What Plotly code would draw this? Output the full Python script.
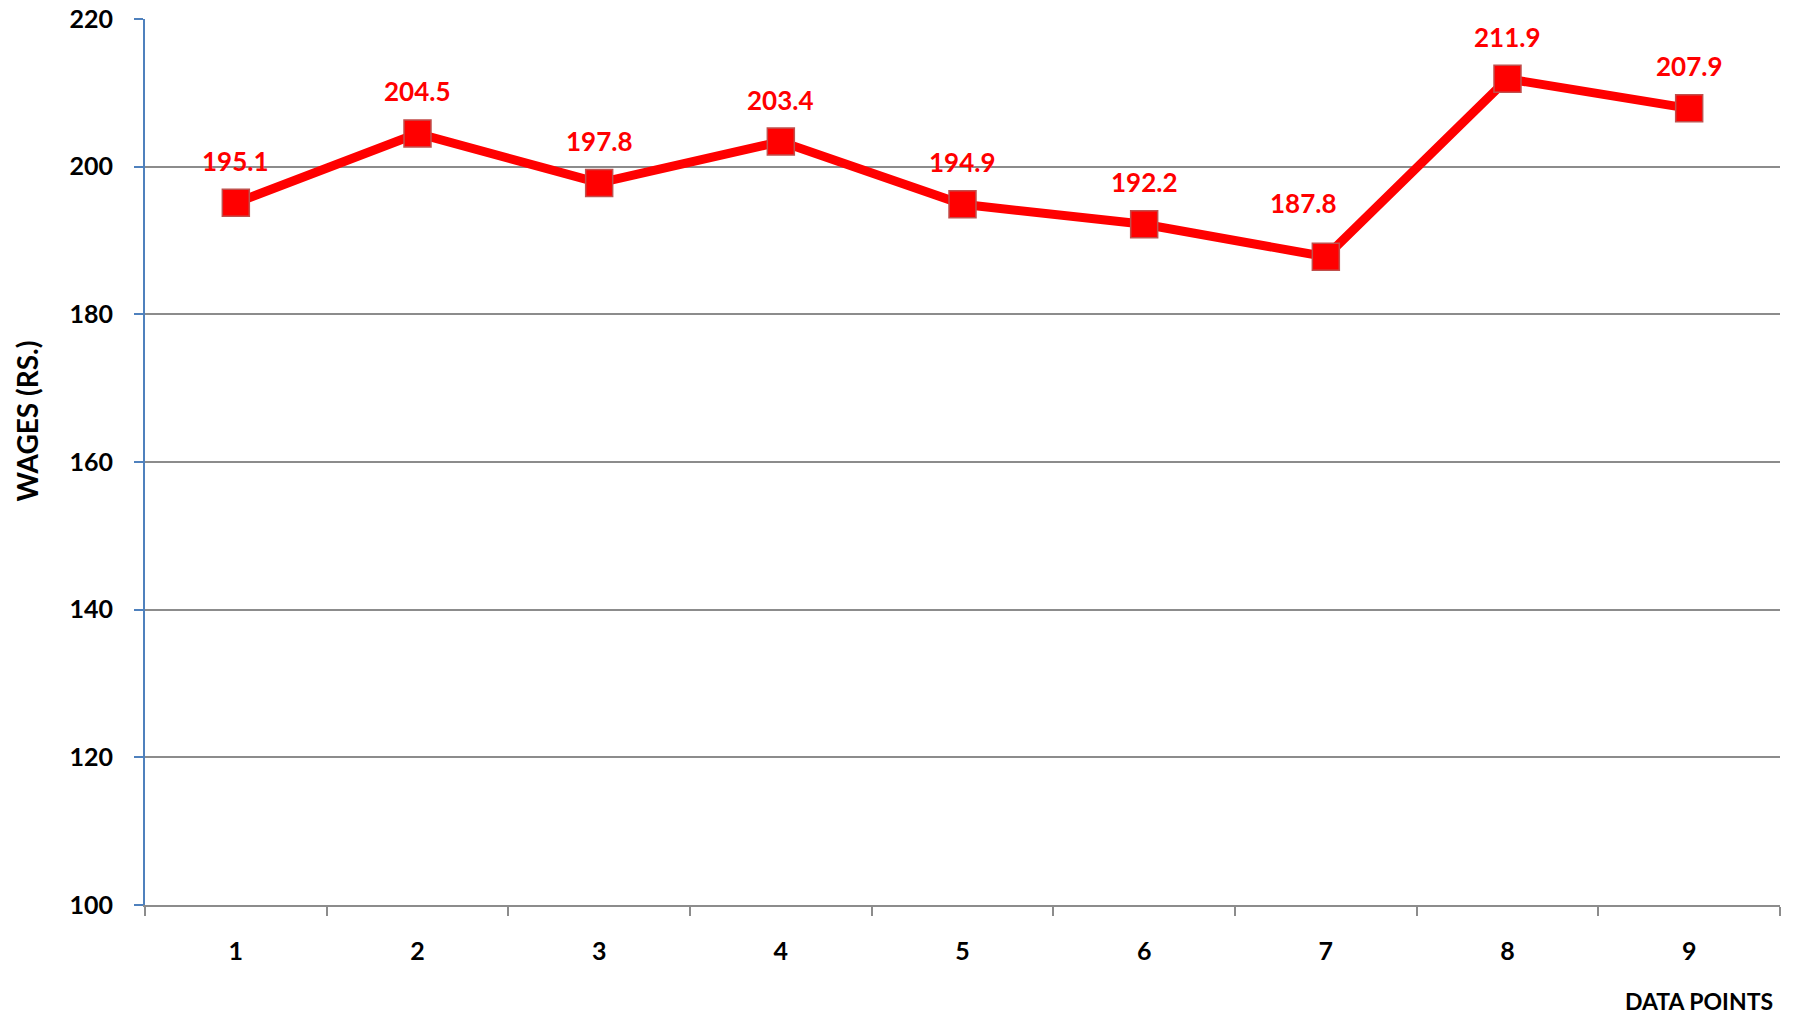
import plotly.graph_objects as go

# Wage values per data point
data_points = ["1", "2", "3", "4", "5", "6", "7", "8", "9"]
wages = [195.1, 204.5, 197.8, 203.4, 194.9, 192.2, 187.8, 211.9, 207.9]
y_ticks = [100, 120, 140, 160, 180, 200, 220]

FONT = "Lato"
RED = "#FF0000"

fig = go.Figure()
fig.add_trace(go.Scatter(
    x=data_points,
    y=wages,
    mode="lines+markers",
    line=dict(color=RED, width=9),
    marker=dict(symbol="square", size=27, color=RED,
                line=dict(color="#C0504D", width=1.5)),
    cliponaxis=False,
    showlegend=False,
))

# Value labels above each marker (category axes take the index position).
# The label at the low point is nudged left so it clears the rising line.
label_nudge = {6: (-22, 54)}
for i, w in enumerate(wages):
    dx, dy = label_nudge.get(i, (0, 42))
    fig.add_annotation(
        x=i, y=w, text=f"{w:.1f}", showarrow=False,
        xshift=dx, yshift=dy,
        font=dict(family=FONT, size=26, color=RED, weight="bold"),
    )

# Axis titles
fig.add_annotation(
    xref="paper", yref="paper", x=-0.072, y=0.546,
    text="WAGES (RS.)", textangle=-90, showarrow=False,
    xanchor="center", yanchor="middle",
    font=dict(family=FONT, size=28, color="black", weight="bold"),
)
fig.add_annotation(
    xref="paper", yref="paper", x=0.997, y=-0.108,
    text="DATA POINTS", showarrow=False,
    xanchor="right", yanchor="middle",
    font=dict(family=FONT, size=23, color="black", weight="bold"),
)

fig.update_layout(
    width=1797, height=1017,
    margin=dict(l=145, r=17, t=19, b=112),
    paper_bgcolor="white", plot_bgcolor="white",
    font=dict(family=FONT, color="black"),
    xaxis=dict(
        type="category",
        range=[-0.5, 8.5],
        automargin=False,
        showgrid=False,
        showline=True, linecolor="#8C8C8C", linewidth=2,
        ticks="outside", tickson="boundaries", ticklen=9,
        tickcolor="#8C8C8C", tickwidth=1.5,
        tickfont=dict(family=FONT, size=25, color="black", weight="bold"),
        ticklabelstandoff=23,
        zeroline=False,
    ),
    yaxis=dict(
        range=[100, 220],
        automargin=False,
        tickvals=y_ticks,
        showgrid=True, gridcolor="#8C8C8C", gridwidth=1.5,
        showline=True, linecolor="#4F81BD", linewidth=2,
        ticks="outside", ticklen=9, tickcolor="#4F81BD", tickwidth=1.5,
        tickfont=dict(family=FONT, size=25, color="black", weight="bold"),
        ticklabelstandoff=16,
        zeroline=False,
    ),
)

fig.write_html("out.html")
